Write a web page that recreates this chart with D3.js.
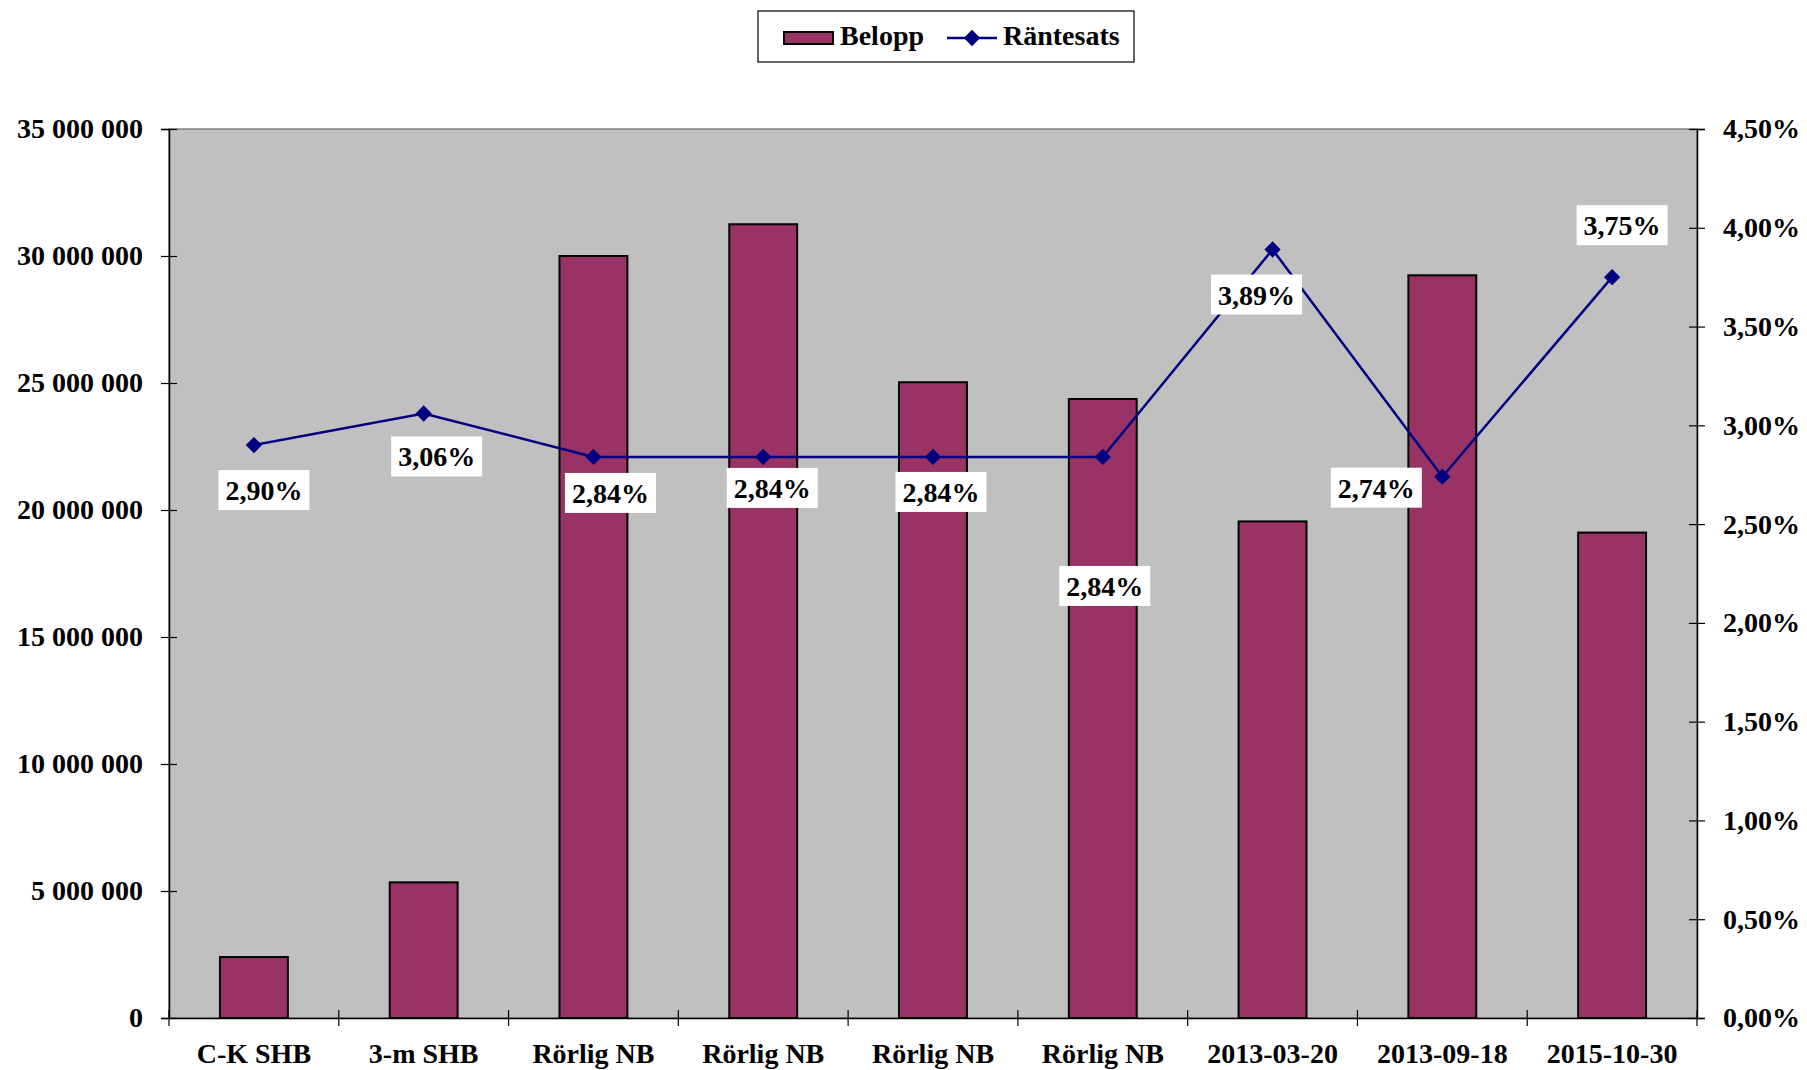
<!DOCTYPE html>
<html><head><meta charset="utf-8">
<script src="https://cdn.jsdelivr.net/npm/d3@7"></script>
<style>
html,body{margin:0;padding:0;background:#fff;}
svg text{font-family:"Liberation Serif","Times New Roman",serif;font-weight:bold;fill:#000;}
</style></head>
<body>
<svg id="chart" width="1807" height="1070"></svg>
<script>
// ---- data ----
const categories = ["C-K SHB","3-m SHB","Rörlig NB","Rörlig NB","Rörlig NB","Rörlig NB","2013-03-20","2013-09-18","2015-10-30"];
const belopp = [2400000, 5340000, 30000000, 31250000, 25030000, 24370000, 19550000, 29240000, 19110000];
const rantesats = [0.0290, 0.0306, 0.0284, 0.0284, 0.0284, 0.0284, 0.0389, 0.0274, 0.0375];
const leftTicks = [0, 5000000, 10000000, 15000000, 20000000, 25000000, 30000000, 35000000];
const rightTicks = [0, 0.005, 0.01, 0.015, 0.02, 0.025, 0.03, 0.035, 0.04, 0.045];
const seriesNames = ["Belopp", "Räntesats"];

// ---- layout (label nudges relative to marker, px) ----
const labelNudge = [[10,45],[13,43],[17,36],[9,31],[8,35],[2,129],[-16,45],[-66,11],[10,-52]];

const W = 1807, H = 1070;
const plot = {left:169, right:1697, top:129, bottom:1018};
const svg = d3.select("#chart");
const FS = 28;

const loc = d3.formatLocale({decimal:",", thousands:" ", grouping:[3], currency:["","kr"]});
const fmtNum = loc.format(",.0f");
const fmtPct = loc.format(".2%");

const x = d3.scaleBand().domain(d3.range(categories.length)).range([plot.left, plot.right]).paddingInner(0).paddingOuter(0);
const yL = d3.scaleLinear().domain([0, 35000000]).range([plot.bottom, plot.top]);
const yR = d3.scaleLinear().domain([0, 0.045]).range([plot.bottom, plot.top]);

// plot background
svg.append("rect").attr("x", plot.left).attr("y", plot.top)
  .attr("width", plot.right-plot.left).attr("height", plot.bottom-plot.top)
  .attr("fill", "#C0C0C0").attr("stroke", "#808080").attr("stroke-width", 1.5);

// bars
const barW = x.step()*0.4;
svg.append("g").selectAll("rect").data(belopp).join("rect")
  .attr("x", (d,i) => x(i) + x.bandwidth()/2 - barW/2)
  .attr("y", d => yL(d))
  .attr("width", barW)
  .attr("height", d => yL(0) - yL(d))
  .attr("fill", "#993366").attr("stroke", "#000").attr("stroke-width", 2);

// left axis
const gL = svg.append("g").attr("transform", `translate(${plot.left},0)`)
  .call(d3.axisLeft(yL).tickValues(leftTicks).tickFormat(fmtNum).tickSize(8).tickPadding(18));
gL.select(".domain").attr("stroke", "#000").attr("stroke-width", 1.5);
gL.selectAll(".tick line").attr("x1", -8).attr("x2", 8).attr("stroke", "#000").attr("stroke-width", 1.2);
gL.selectAll(".tick text").attr("font-size", FS).attr("fill", "#000").attr("font-family", null);

// right axis
const gR = svg.append("g").attr("transform", `translate(${plot.right},0)`)
  .call(d3.axisRight(yR).tickValues(rightTicks).tickFormat(fmtPct).tickSize(8).tickPadding(18));
gR.select(".domain").attr("stroke", "#000").attr("stroke-width", 1.5);
gR.selectAll(".tick line").attr("x1", -8).attr("x2", 8).attr("stroke", "#000").attr("stroke-width", 1.2);
gR.selectAll(".tick text").attr("font-size", FS).attr("fill", "#000").attr("font-family", null);

// bottom axis
const gB = svg.append("g").attr("transform", `translate(0,${plot.bottom})`)
  .call(d3.axisBottom(x).tickFormat(i => categories[i]).tickSize(0));
gB.select(".domain").attr("stroke", "#000").attr("stroke-width", 1.5);
gB.selectAll(".tick text").attr("font-size", FS).attr("fill", "#000").attr("font-family", null)
  .attr("y", 45).attr("dy", "0");
// boundary ticks
gB.append("g").selectAll("line").data(d3.range(categories.length + 1)).join("line")
  .attr("x1", i => plot.left + i*x.step()).attr("x2", i => plot.left + i*x.step())
  .attr("y1", -8).attr("y2", 8).attr("stroke", "#000").attr("stroke-width", 1.2);

// line
const cx = i => x(i) + x.bandwidth()/2;
svg.append("path").datum(rantesats)
  .attr("d", d3.line().x((d,i) => cx(i)).y(d => yR(d)))
  .attr("fill", "none").attr("stroke", "#000080").attr("stroke-width", 2.5);
const diamond = d3.symbol().type(d3.symbolDiamond2).size(170);
svg.append("g").selectAll("path").data(rantesats).join("path")
  .attr("transform", (d,i) => `translate(${cx(i)},${yR(d)})`)
  .attr("d", diamond).attr("fill", "#000080");

// data labels
const lab = svg.append("g").selectAll("g").data(rantesats).join("g")
  .attr("transform", (d,i) => `translate(${cx(i)+labelNudge[i][0]},${yR(d)+labelNudge[i][1]})`);
lab.append("rect").attr("x", -45.5).attr("y", -20).attr("width", 91).attr("height", 40).attr("fill", "#fff");
lab.append("text").attr("text-anchor", "middle").attr("y", 10).attr("font-size", FS).text(d => fmtPct(d));

// legend
const leg = svg.append("g");
leg.append("rect").attr("x", 758).attr("y", 11).attr("width", 376).attr("height", 51)
  .attr("fill", "#fff").attr("stroke", "#000").attr("stroke-width", 1.2);
leg.append("rect").attr("x", 784).attr("y", 32).attr("width", 49).attr("height", 12)
  .attr("fill", "#993366").attr("stroke", "#000").attr("stroke-width", 2);
leg.append("text").attr("x", 840).attr("y", 45).attr("font-size", FS).text(seriesNames[0]);
leg.append("line").attr("x1", 947).attr("x2", 997).attr("y1", 38).attr("y2", 38)
  .attr("stroke", "#000080").attr("stroke-width", 2.5);
leg.append("path").attr("transform", "translate(972,38)").attr("d", diamond).attr("fill", "#000080");
leg.append("text").attr("x", 1003).attr("y", 45).attr("font-size", FS).text(seriesNames[1]);
</script>
</body></html>
